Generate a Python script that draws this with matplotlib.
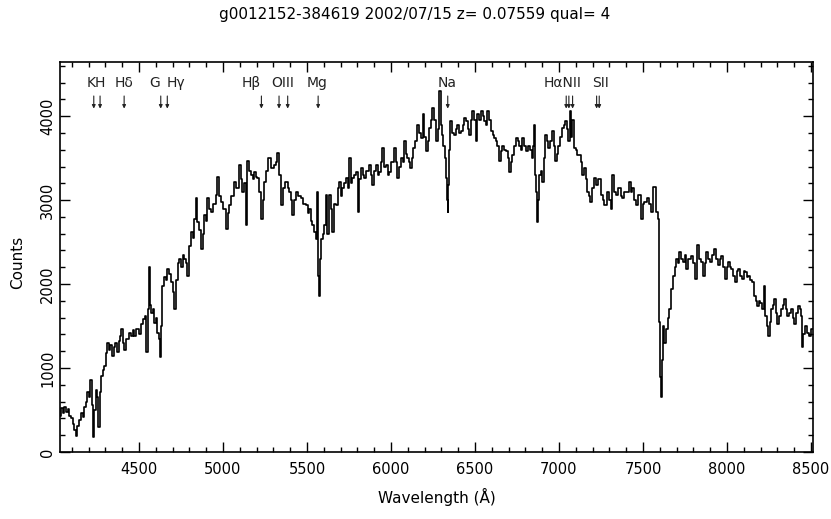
import matplotlib
import matplotlib.pyplot as plt
from matplotlib.ticker import MultipleLocator

matplotlib.use("Agg")

wavelength = [
    4030, 4040, 4050, 4060, 4070, 4080, 4090, 4100, 4110, 4120, 4127, 4135, 4149, 4160, 4170,
    4179, 4190, 4197, 4205, 4215, 4222, 4226, 4235, 4250, 4256, 4262, 4270, 4280, 4290, 4298,
    4306, 4316, 4325, 4335, 4345, 4355, 4365, 4375, 4385, 4392, 4399, 4408, 4417, 4426, 4435,
    4447, 4459, 4468, 4476, 4490, 4506, 4520, 4530, 4536, 4548, 4556, 4560, 4566, 4578, 4588,
    4595, 4605, 4613, 4622, 4631, 4637, 4643, 4655, 4665, 4673, 4685, 4697, 4705, 4714, 4724,
    4735, 4744, 4755, 4765, 4774, 4784, 4792, 4805, 4816, 4826, 4834, 4845, 4851, 4863, 4875,
    4884, 4893, 4903, 4911, 4923, 4935, 4950, 4964, 4970, 4982, 4994, 5010, 5024, 5033, 5042,
    5055, 5072, 5085, 5101, 5110, 5119, 5131, 5143, 5149, 5160, 5173, 5182, 5191, 5200, 5209,
    5220, 5232, 5240, 5250, 5262, 5280, 5292, 5310, 5320, 5328, 5340, 5351, 5362, 5381, 5390,
    5399, 5408, 5417, 5430, 5441, 5455, 5470, 5485, 5500, 5510, 5518, 5527, 5536, 5548, 5560,
    5563, 5566, 5572, 5580, 5589, 5598, 5607, 5616, 5625, 5637, 5646, 5655, 5667, 5679, 5690,
    5697, 5706, 5714, 5726, 5738, 5748, 5756, 5765, 5774, 5786, 5798, 5804, 5815, 5827, 5836,
    5845, 5860, 5875, 5884, 5893, 5905, 5917, 5926, 5935, 5944, 5952, 5964, 5976, 5985, 5994,
    6010, 6024, 6033, 6042, 6054, 6066, 6075, 6083, 6092, 6101, 6110, 6119, 6128, 6137, 6150,
    6161, 6172, 6185, 6191, 6202, 6214, 6223, 6232, 6241, 6250, 6262, 6274, 6283, 6292, 6298,
    6304, 6316, 6322, 6328, 6334, 6339, 6345, 6351, 6357, 6369, 6381, 6390, 6399, 6411, 6423,
    6432, 6441, 6453, 6462, 6470, 6480, 6488, 6500, 6512, 6518, 6530, 6542, 6551, 6560, 6568,
    6577, 6590, 6601, 6610, 6619, 6628, 6637, 6649, 6658, 6667, 6680, 6691, 6700, 6708, 6718,
    6726, 6738, 6750, 6760, 6768, 6777, 6786, 6798, 6810, 6818, 6827, 6834, 6839, 6848, 6857,
    6863, 6869, 6875, 6881, 6887, 6896, 6905, 6914, 6923, 6932, 6941, 6952, 6964, 6973, 6982,
    6991, 7000, 7012, 7024, 7033, 7042, 7051, 7060, 7066, 7072, 7083, 7095, 7104, 7113, 7125,
    7134, 7143, 7155, 7165, 7173, 7182, 7190, 7202, 7214, 7226, 7240, 7256, 7265, 7274, 7292,
    7306, 7315, 7321, 7333, 7345, 7363, 7372, 7381, 7393, 7405, 7423, 7432, 7440, 7452, 7464,
    7482, 7494, 7503, 7512, 7530, 7542, 7554, 7571, 7583, 7595, 7601, 7607, 7613, 7619, 7625,
    7631, 7643, 7652, 7661, 7673, 7684, 7693, 7702, 7710, 7720, 7732, 7744, 7753, 7762, 7777,
    7792, 7805, 7815, 7827, 7840, 7851, 7863, 7872, 7881, 7893, 7905, 7917, 7929, 7940, 7952,
    7961, 7970, 7982, 7994, 8003, 8012, 8021, 8030, 8042, 8054, 8062, 8071, 8083, 8095, 8104,
    8113, 8122, 8131, 8143, 8155, 8167, 8175, 8184, 8193, 8202, 8214, 8226, 8232, 8241, 8250,
    8259, 8268, 8277, 8286, 8295, 8304, 8315, 8327, 8336, 8345, 8354, 8363, 8375, 8387, 8396,
    8405, 8417, 8429, 8438, 8446, 8452, 8458, 8470, 8482, 8494, 8503, 8510,
]
counts = [
    430, 520, 470, 540, 480, 510, 430, 400, 330, 260, 190, 310, 380, 470, 420,
    540, 600, 710, 650, 860, 560, 180, 500, 740, 650, 300, 720, 900, 980, 1020,
    1180, 1300, 1220, 1280, 1140, 1250, 1300, 1190, 1320, 1380, 1460, 1300, 1220, 1350, 1340,
    1420, 1380, 1450, 1380, 1460, 1400, 1520, 1580, 1620, 1190, 1700, 2200, 1750, 1660, 1700,
    1540, 1600, 1420, 1350, 1130, 1500, 1980, 2080, 2050, 2180, 2120, 2020, 1900, 1700, 2050,
    2250, 2300, 2200, 2350, 2300, 2250, 2100, 2450, 2620, 2550, 2780, 3020, 2740, 2650, 2420,
    2600, 2820, 2750, 3020, 2900, 2860, 2950, 3060, 3280, 3050, 2980, 2900, 2660, 2850, 2940,
    3050, 3220, 3150, 3420, 3250, 3100, 3200, 2700, 3460, 3350, 3300, 3250, 3340, 3280, 3260,
    3100, 2780, 3000, 3220, 3350, 3500, 3380, 3420, 3450, 3560, 3300, 2940, 3150, 3220, 3150,
    3100, 3000, 2820, 3000, 3100, 3050, 3020, 2950, 2940, 2850, 2900, 2750, 2700, 2620, 2540,
    3100, 2100, 1860, 2300, 2540, 2600, 2700, 3060, 2600, 3060, 2900, 2620, 2950, 2940, 3150,
    3220, 3050, 3140, 3200, 3260, 3150, 3500, 3200, 3260, 3300, 3340, 2860, 3250, 3380, 3300,
    3260, 3350, 3420, 3300, 3180, 3350, 3420, 3300, 3340, 3450, 3620, 3400, 3420, 3300, 3340,
    3450, 3620, 3450, 3260, 3400, 3500, 3450, 3700, 3550, 3500, 3450, 3380, 3500, 3620, 3700,
    3900, 3800, 3740, 4020, 3750, 3580, 3700, 3860, 3950, 4100, 3950, 3700, 3850, 4300, 3900,
    3780, 3650, 3500, 3260, 3000, 2860, 3180, 3600, 3940, 3800, 3780, 3850, 3900, 3800, 3820,
    3900, 3980, 3940, 3850, 3780, 3950, 4060, 3950, 3700, 4020, 3950, 4060, 4000, 3940, 3900,
    4060, 3950, 3820, 3780, 3740, 3700, 3650, 3460, 3580, 3650, 3600, 3580, 3500, 3340, 3450,
    3540, 3650, 3740, 3700, 3650, 3600, 3740, 3650, 3580, 3650, 3650, 3600, 3500, 3650, 3900,
    3300, 3100, 2740, 3000, 3300, 3350, 3220, 3500, 3780, 3700, 3620, 3700, 3820, 3650, 3460,
    3550, 3650, 3750, 3860, 3900, 3940, 3850, 3700, 4060, 3750, 3950, 3620, 3600, 3540, 3540,
    3450, 3300, 3380, 3250, 3100, 3050, 2980, 3140, 3260, 3180, 3250, 3060, 3000, 2940, 3100,
    3000, 2900, 3300, 3100, 3060, 3140, 3050, 3020, 3100, 3100, 3220, 3100, 3140, 3000, 2940,
    3060, 2780, 2950, 2980, 3020, 2950, 2860, 3160, 2860, 2780, 1550, 890, 650, 1100, 1500,
    1300, 1460, 1600, 1700, 1940, 2100, 2200, 2300, 2250, 2380, 2300, 2260, 2350, 2180, 2300,
    2340, 2250, 2060, 2470, 2300, 2260, 2100, 2250, 2380, 2300, 2260, 2350, 2420, 2300, 2230,
    2300, 2340, 2200, 2060, 2200, 2260, 2200, 2180, 2100, 2020, 2150, 2180, 2100, 2060, 2150,
    2140, 2080, 2100, 2050, 2020, 1860, 1800, 1740, 1800, 1780, 1700, 1980, 1620, 1500, 1380,
    1550, 1700, 1750, 1820, 1650, 1530, 1620, 1700, 1750, 1820, 1700, 1620, 1650, 1700, 1600,
    1530, 1650, 1740, 1700, 1620, 1250, 1400, 1500, 1420, 1380, 1460, 1460,
]

redshift = 0.07559
title = "g0012152-384619 2002/07/15 z= 0.07559 qual= 4"

# rest-frame lines marked with arrows
rest_lines = [3933.7, 3968.5, 4101.7, 4304.4, 4340.5, 4861.3, 4958.9, 5006.8,
              5175.3, 5892.5, 6548.1, 6562.8, 6583.4, 6716.4, 6730.8]
line_names = ["KH", "Hδ", "G", "Hγ", "Hβ", "OIII", "Mg", "Na", "HαNII", "SII"]
name_x = [4244, 4411, 4595, 4720, 5167, 5357, 5560, 6333, 7024, 7250]

fig = plt.figure(figsize=(8.31, 5.19), dpi=100)
ax = fig.add_axes([60 / 831, 1 - 452 / 519, 753 / 831, 390 / 519])

ax.plot(wavelength, counts, color="black", linewidth=1.2, drawstyle="steps-mid")

for name, x in zip(line_names, name_x):
    ax.text(x, 4400, name, ha="center", va="center", fontsize=10, color="#222222")
for lam in rest_lines:
    ax.annotate("", xy=(lam * (1 + redshift), 4090), xytext=(lam * (1 + redshift), 4240),
                arrowprops=dict(arrowstyle="-|>", color="#222222", lw=0.8,
                                mutation_scale=5, shrinkA=0, shrinkB=0))

ax.set_xlim(4030, 8512)
ax.set_ylim(0, 4645)
ax.xaxis.set_major_locator(MultipleLocator(500))
ax.xaxis.set_minor_locator(MultipleLocator(100))
ax.yaxis.set_major_locator(MultipleLocator(1000))
ax.yaxis.set_minor_locator(MultipleLocator(200))
ax.tick_params(which="both", direction="in", top=True, right=True, labelsize=10.5)
ax.tick_params(which="major", length=7, width=1)
ax.tick_params(which="minor", length=3.5, width=1)
ax.tick_params(axis="x", pad=7)
for lab in ax.get_yticklabels():
    lab.set_rotation(90)
    lab.set_va("center")
for spine in ax.spines.values():
    spine.set_linewidth(1.2)

fig.text(415 / 831, 1 - 15 / 519, title, ha="center", va="center", fontsize=11)
fig.text(437 / 831, 1 - 497 / 519, "Wavelength (Å)", ha="center", va="center", fontsize=11)
fig.text(18 / 831, 1 - 262 / 519, "Counts", ha="center", va="center", rotation=90, fontsize=11)

fig.savefig("out.png", dpi=100)
